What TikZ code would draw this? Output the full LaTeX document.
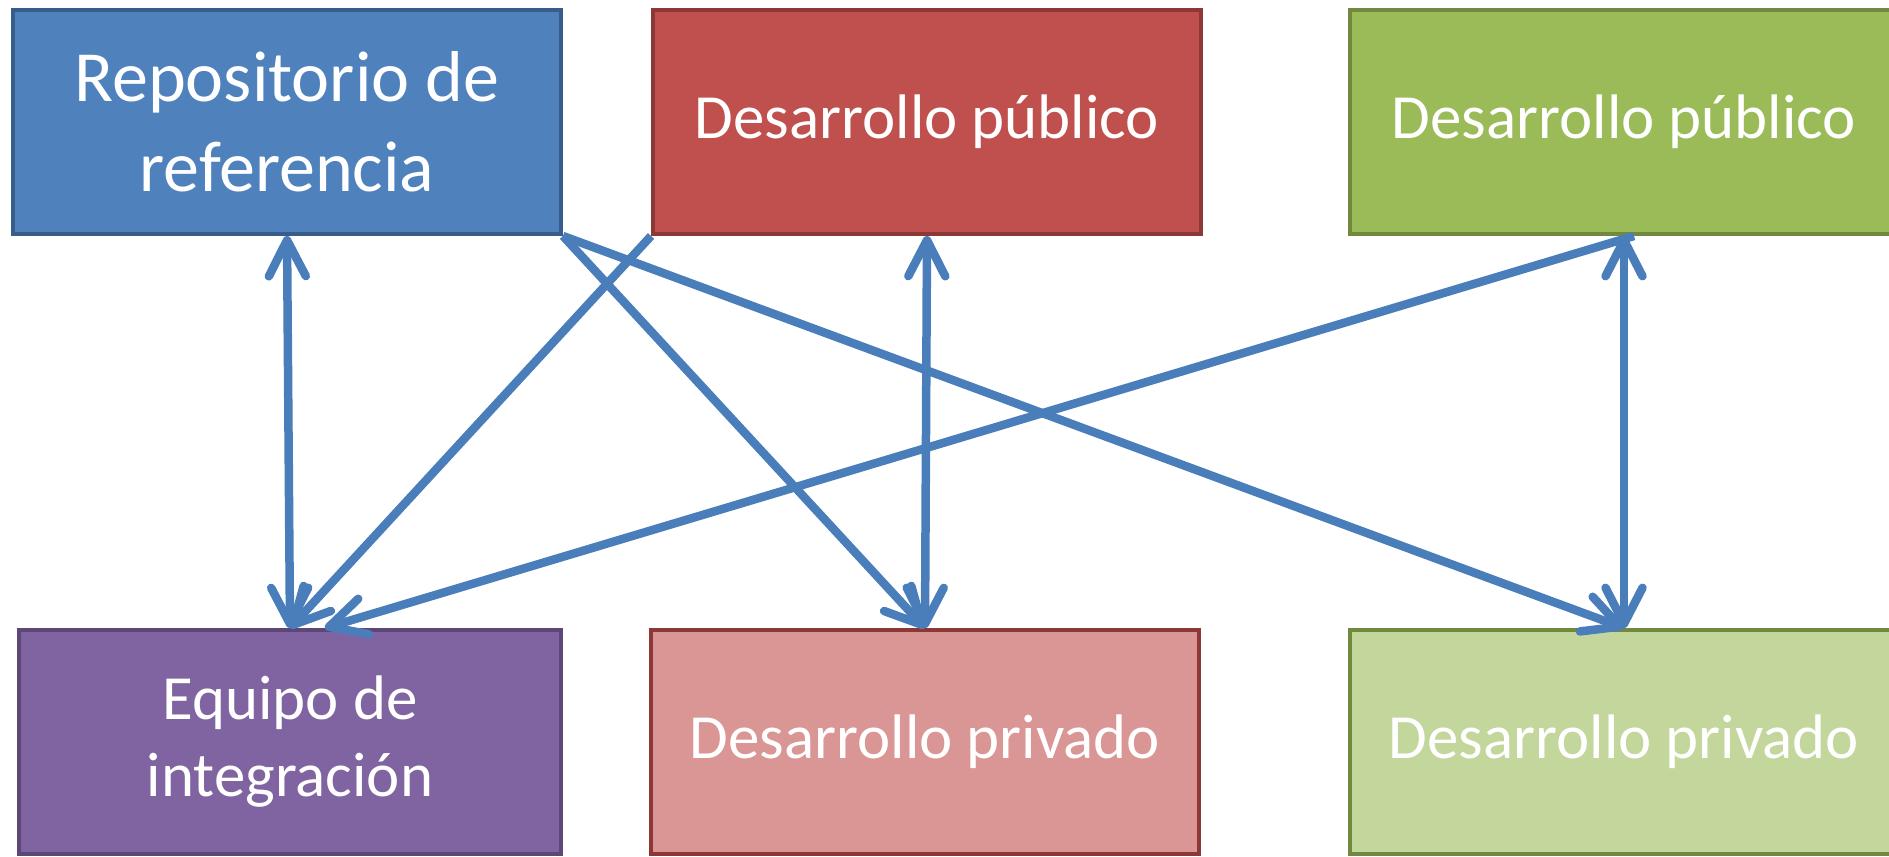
\documentclass[tikz,border=0pt]{standalone}
\usepackage{fontspec}
\setmainfont{Carlito}
\usetikzlibrary{positioning, arrows.meta}

\definecolor{azulRepo}{HTML}{4F81BD}
\definecolor{azulBorde}{HTML}{385D8A}
\definecolor{rojoPub}{HTML}{C0504D}
\definecolor{rojoBorde}{HTML}{8C3836}
\definecolor{rosaPriv}{HTML}{D99694}
\definecolor{verdePub}{HTML}{9BBB59}
\definecolor{verdeBorde}{HTML}{71893F}
\definecolor{verdePriv}{HTML}{C3D69B}
\definecolor{moradoEq}{HTML}{8064A2}
\definecolor{moradoBorde}{HTML}{5C4776}
\definecolor{lineaAzul}{HTML}{4A7EBB}

\begin{document}
\begin{tikzpicture}[x=0.02cm, y=-0.02cm,
    caja/.style={draw, line width=0.08cm, minimum width=10.96cm, minimum height=4.48cm,
      inner sep=0pt, text=white, align=center, font=\fontsize{35.8}{43.8}\selectfont},
    >={Straight Barb[length=0.72cm, width=0.74cm, round]},
    flecha/.style={draw=lineaAzul, line width=0.17cm}]
  \useasboundingbox (0,0) rectangle (1889,856);

  % fila superior
  \node[caja, fill=azulRepo, draw=azulBorde, font=\fontsize{41}{51}\selectfont]
    (repo) at (287,122) {Repositorio de\\referencia};
  \node[caja, fill=rojoPub, draw=rojoBorde] (pubRojo) at (927,122) {Desarrollo público};
  \node[caja, fill=verdePub, draw=verdeBorde] (pubVerde) at (1624,122) {Desarrollo público};

  % fila inferior
  \node[caja, fill=moradoEq, draw=moradoBorde, minimum width=10.84cm]
    (equipo) at (290,742) {Equipo de\\integración};
  \node[caja, fill=rosaPriv, draw=rojoBorde] (privRojo) at (925,742) {Desarrollo privado};
  \node[caja, fill=verdePriv, draw=verdeBorde] (privVerde) at (1624,742) {Desarrollo privado};

  % flechas verticales
  \draw[flecha, <->] (repo.south) -- (equipo.north);
  \draw[flecha, <->] (pubRojo.south) -- (privRojo.north);
  \draw[flecha, <->] (pubVerde.south) -- (privVerde.north);

  % flechas cruzadas
  \draw[flecha, ->] (repo.south east) -- (privRojo.north);
  \draw[flecha, ->] (repo.south east) -- (privVerde.north);
  \draw[flecha, ->] (pubRojo.south west) -- (equipo.north);
  \draw[flecha, ->] ([xshift=0.2cm]pubVerde.south) -- ([xshift=0.7cm]equipo.north);
\end{tikzpicture}
\end{document}
